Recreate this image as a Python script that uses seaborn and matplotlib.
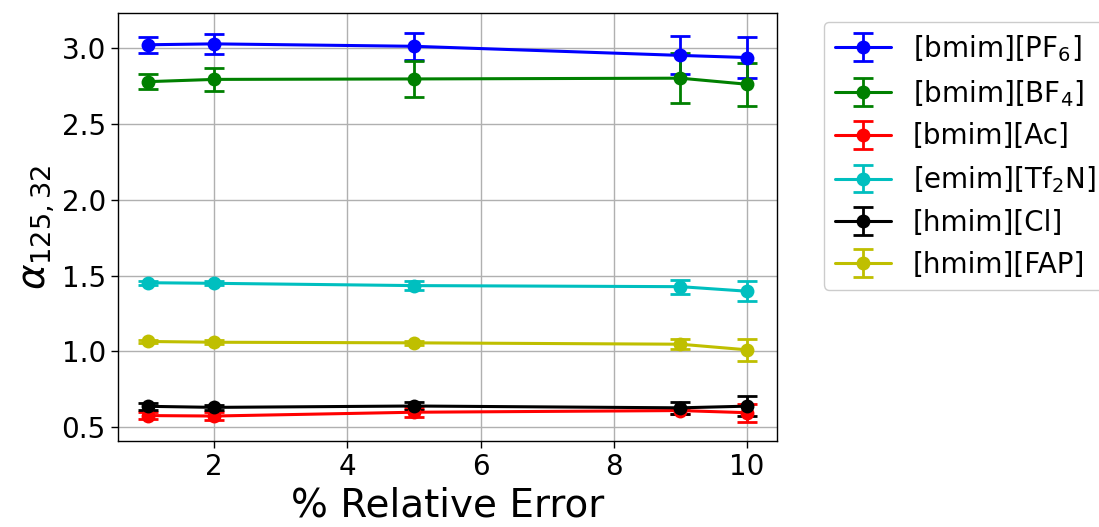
import numpy as np
import pandas as pd
import matplotlib
matplotlib.use("Agg")
import matplotlib.pyplot as plt
import seaborn as sns
from matplotlib.legend_handler import HandlerTuple

# Relative error levels (%)
rel_error = [1, 2, 5, 9, 10]

names = ["[bmim][PF$_6$]", "[bmim][BF$_4$]", "[bmim][Ac]",
         "[emim][Tf$_2$N]", "[hmim][Cl]", "[hmim][FAP]"]
colors = ["b", "g", "r", "c", "k", "y"]

pf6 = [3.020, 3.026, 3.010, 2.950, 2.936]
pf6_err = [0.054, 0.064, 0.090, 0.125, 0.138]
bf4 = [2.777, 2.792, 2.795, 2.800, 2.760]
bf4_err = [0.050, 0.074, 0.116, 0.163, 0.143]
ac = [0.578, 0.575, 0.600, 0.611, 0.597]
ac_err = [0.025, 0.025, 0.030, 0.020, 0.059]
tf2n = [1.453, 1.449, 1.434, 1.427, 1.397]
tf2n_err = [0.012, 0.012, 0.028, 0.046, 0.066]
cl = [0.639, 0.632, 0.641, 0.629, 0.640]
cl_err = [0.022, 0.018, 0.028, 0.038, 0.066]
fap = [1.066, 1.061, 1.057, 1.048, 1.011]
fap_err = [0.012, 0.012, 0.015, 0.033, 0.072]

values = [pf6, bf4, ac, tf2n, cl, fap]
errors = [pf6_err, bf4_err, ac_err, tf2n_err, cl_err, fap_err]

df = pd.DataFrame({
    "err": np.tile(rel_error, len(names)),
    "alpha": np.concatenate(values),
    "sd": np.concatenate(errors),
    "il": np.repeat(names, len(rel_error)),
})

sns.set_style("white")
plt.rcParams["font.family"] = ["DejaVu Sans"]
plt.rcParams["mathtext.fontset"] = "dejavusans"
plt.rcParams["text.color"] = "black"
plt.rcParams["axes.labelcolor"] = "black"
plt.rcParams["xtick.color"] = "black"
plt.rcParams["ytick.color"] = "black"

fig, ax = plt.subplots(figsize=(10.99, 5.27), dpi=100)
fig.subplots_adjust(left=0.107, right=0.707, top=0.975, bottom=0.163)

sns.lineplot(data=df, x="err", y="alpha", hue="il", hue_order=names,
             palette=dict(zip(names, colors)), marker="o", markersize=10,
             markeredgewidth=0, linewidth=2.2, legend=False, ax=ax, zorder=3)

handles = []
for i, name in enumerate(names):
    sub = df[df["il"] == name]
    eb = ax.errorbar(sub["err"], sub["alpha"], yerr=sub["sd"], fmt="none",
                     ecolor=colors[i], elinewidth=2, capsize=7, capthick=2,
                     zorder=2)
    handles.append((ax.lines[i], eb))

ax.legend(handles, names, loc="upper left", bbox_to_anchor=(1.05, 1.012),
          fontsize=20, handler_map={tuple: HandlerTuple(ndivide=1)},
          handlelength=2.0, framealpha=1, edgecolor="#cccccc")

ax.grid(True, color="#b0b0b0", linewidth=1)
ax.set_axisbelow(True)
for s in ax.spines.values():
    s.set_color("black")
    s.set_linewidth(1)
ax.tick_params(axis="both", which="major", labelsize=20, length=5, width=1,
               direction="out", bottom=True, left=True, color="black",
               labelcolor="black")
ax.set_xticks([2, 4, 6, 8, 10])
ax.set_xlabel("% Relative Error", fontsize=28, color="black")
ax.set_ylabel(r"$\alpha_{125,32}$", fontsize=28, color="black")

fig.savefig("out.png", dpi=100)
